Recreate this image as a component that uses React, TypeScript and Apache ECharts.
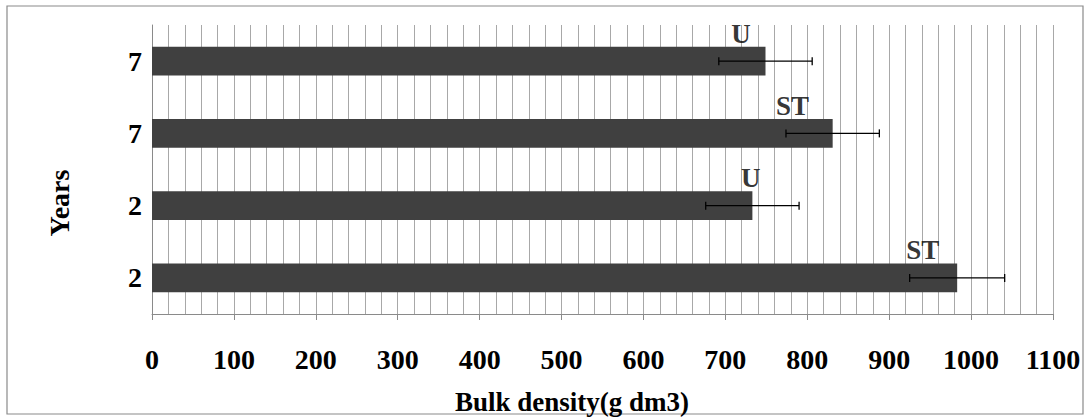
import React, { useEffect, useRef } from "react";
import * as echarts from "echarts";

const categories = ["2 ST", "2 U", "7 ST", "7 U"];
const yearLabels = ["2", "2", "7", "7"];
const treatments = ["ST", "U", "ST", "U"];
const density = [983, 733, 831, 749];
const errors = [58, 57, 57, 57];
const labelAt = [941, 731, 782, 719];
const xTicks = { min: 0, max: 1100, interval: 100 };
const xTitle = "Bulk density(g dm3)";
const yTitle = "Years";

const FONT = "'Liberation Serif', 'Times New Roman', serif";

export default function App() {
  const ref = useRef<HTMLDivElement>(null);
  useEffect(() => {
    if (!ref.current) return;
    const chart = echarts.init(ref.current, undefined, { renderer: "svg" });
    chart.setOption({
      animation: false,
      backgroundColor: "#ffffff",
      grid: { left: 152, right: 36, top: 25, bottom: 105 },
      xAxis: {
        type: "value",
        min: xTicks.min,
        max: xTicks.max,
        interval: xTicks.interval,
        axisLine: { show: true, lineStyle: { color: "#8a8a8a", width: 1 } },
        axisTick: { show: true, length: 6, inside: false, lineStyle: { color: "#8a8a8a" } },
        axisLabel: {
          margin: 31,
          color: "#000",
          fontFamily: FONT,
          fontWeight: "bold",
          fontSize: 28,
          formatter: (v: number) => String(v),
        },
        splitLine: { show: true, lineStyle: { color: "#a8a8a8", width: 1 } },
        minorTick: { show: false, splitNumber: 5 },
        minorSplitLine: { show: true, lineStyle: { color: "#a8a8a8", width: 1 } },
      },
      yAxis: {
        type: "category",
        data: categories,
        axisLine: { show: true, lineStyle: { color: "#8a8a8a", width: 1 } },
        axisTick: { show: false },
        axisLabel: {
          margin: 10,
          color: "#000",
          fontFamily: FONT,
          fontWeight: "bold",
          fontSize: 28,
          formatter: (_v: string, i: number) => yearLabels[i],
        },
        splitLine: { show: false },
      },
      series: [
        {
          type: "bar",
          data: density,
          barCategoryGap: "60%",
          itemStyle: { color: "#404040" },
          z: 2,
        },
        {
          type: "custom",
          z: 5,
          data: density.map((v, i) => [i, v, errors[i]]),
          renderItem: (params: any, api: any) => {
            const idx = api.value(0);
            const v = api.value(1);
            const e = api.value(2);
            const lo = api.coord([v - e, idx]);
            const hi = api.coord([v + e, idx]);
            const h = 4;
            const style = { stroke: "#000", lineWidth: 1.3 };
            return {
              type: "group",
              children: [
                { type: "line", shape: { x1: lo[0], y1: lo[1], x2: hi[0], y2: hi[1] }, style },
                { type: "line", shape: { x1: lo[0], y1: lo[1] - h, x2: lo[0], y2: lo[1] + h }, style },
                { type: "line", shape: { x1: hi[0], y1: hi[1] - h, x2: hi[0], y2: hi[1] + h }, style },
              ],
            };
          },
        },
        {
          type: "scatter",
          symbolSize: 0,
          z: 6,
          data: labelAt.map((x, i) => [x, i]),
          label: {
            show: true,
            position: "top",
            distance: 14,
            color: "#000",
            fontFamily: FONT,
            fontWeight: "bold",
            fontSize: 27,
            formatter: (p: any) => treatments[p.dataIndex],
          },
        },
      ],
      graphic: [
        {
          type: "rect",
          shape: { x: 7, y: 6, width: 1076, height: 408 },
          style: { fill: "none", stroke: "#8a8a8a", lineWidth: 1.2 },
          z: -1,
        },
        {
          type: "text",
          x: 59,
          y: 203,
          rotation: Math.PI / 2,
          style: {
            text: yTitle,
            fill: "#000",
            font: `bold 28px ${FONT}`,
            textAlign: "center",
            textVerticalAlign: "middle",
          },
        },
        {
          type: "text",
          x: 572,
          y: 402,
          style: {
            text: xTitle,
            fill: "#000",
            font: `bold 27px ${FONT}`,
            textAlign: "center",
            textVerticalAlign: "middle",
          },
        },
      ],
    });
    return () => chart.dispose();
  }, []);
  return (
    <div
      ref={ref}
      style={{ position: "fixed", left: 0, top: 0, width: 1089, height: 419 }}
    />
  );
}
